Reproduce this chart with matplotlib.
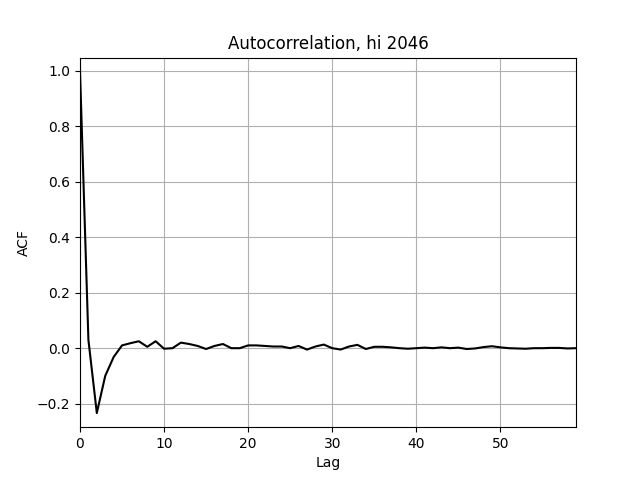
import numpy as np
import matplotlib
matplotlib.use('Agg')
import matplotlib.pyplot as plt

# ACF values, lags 0..59
lags = np.arange(60)
acf = [1.0, 0.03, -0.234, -0.10, -0.032, 0.01, 0.018, 0.025, 0.005, 0.025,
       -0.002, 0.0, 0.02, 0.015, 0.008, -0.003, 0.008, 0.015, 0.0, 0.0,
       0.01, 0.01, 0.008, 0.006, 0.006, 0.0, 0.008, -0.005, 0.006, 0.013,
       0.0, -0.005, 0.006, 0.012, -0.003, 0.005, 0.005, 0.003, 0.0, -0.002,
       0.0, 0.002, 0.0, 0.003, 0.0, 0.002, -0.003, -0.001, 0.004, 0.007,
       0.003, 0.0, -0.001, -0.002, 0.0, 0.0, 0.001, 0.001, -0.001, 0.0]

plt.figure(figsize=(6.4, 4.8), dpi=100)
plt.plot(lags, acf, color='black')
plt.title('Autocorrelation, hi 2046')
plt.xlabel('Lag')
plt.ylabel('ACF')
plt.xlim(0, 59)
plt.ylim(-0.285, 1.048)
plt.grid(True)
plt.savefig('out.png')
